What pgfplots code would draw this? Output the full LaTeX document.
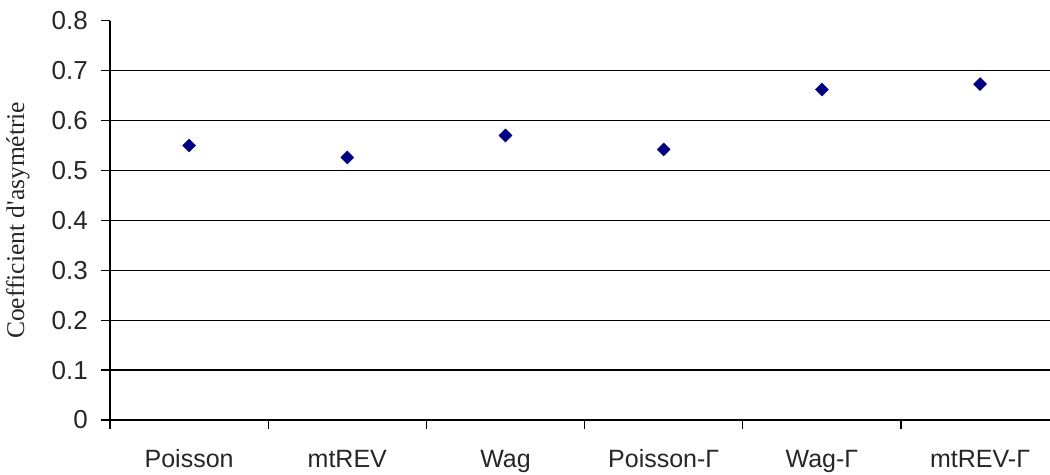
\documentclass[border=0pt]{standalone}
\usepackage{pgfplots}
\pgfplotsset{compat=1.18}
\usepackage{fontspec}
\setmainfont{Liberation Sans}
\newfontfamily\seriffont{Liberation Serif}
\definecolor{navy}{RGB}{0,0,128}
\begin{document}
\begin{tikzpicture}
\begin{axis}[
  scale only axis,
  width=940pt, height=399.3pt,
  xmin=-0.5, xmax=5.442,
  ymin=0, ymax=0.8,
  axis x line*=bottom,
  axis y line*=left,
  axis line style={black, line width=1.2pt, -},
  tick style={black, line width=1.2pt},
  tick align=outside,
  major tick length=9pt,
  ytick={0,0.1,0.2,0.3,0.4,0.5,0.6,0.7,0.8},
  yticklabels={0,0.1,0.2,0.3,0.4,0.5,0.6,0.7,0.8},
  /pgf/number format/assume math mode=true,
  yticklabel style={font=\fontsize{26}{30}\selectfont, color=black!85, anchor=east, inner sep=0pt, xshift=-13pt},
  xtick={-0.5,0.5,1.5,2.5,3.5,4.5},
  xticklabels={},
  extra x ticks={0,1,2,3,4,5},
  extra x tick labels={Poisson,mtREV,Wag,Poisson-Γ,Wag-Γ,mtREV-Γ},
  extra x tick style={major tick length=0pt, grid=none,
    tick label style={font=\fontsize{25}{29}\selectfont, color=black!85, anchor=base, yshift=-48pt}},
  extra y ticks={0.1,0.2,0.3,0.4,0.5,0.6,0.7},
  extra y tick labels={},
  extra y tick style={grid=major, major tick length=0pt},
  major grid style={black, line width=1.2pt},
  ylabel={\seriffont Coefficient d'asymétrie},
  ylabel style={font=\fontsize{25.5}{30}\selectfont, color=black!85, at={([xshift=-92pt]rel axis cs:0,0.5)}, anchor=center, rotate=0},
  clip=false,
]
\addplot[only marks, mark=square*, mark size=4.6pt, mark options={rotate=45, fill=navy, draw=navy}] coordinates {
  (0,0.550) (1,0.526) (2,0.570) (3,0.542) (4,0.662) (5,0.673)
};
\coordinate (SW) at (rel axis cs:0,0);
\coordinate (NE) at (rel axis cs:1,1);
\end{axis}
\pgfresetboundingbox
\path ([shift={(-110pt,-55pt)}]SW) rectangle ([shift={(0pt,20.7pt)}]NE);
\end{tikzpicture}
\end{document}
